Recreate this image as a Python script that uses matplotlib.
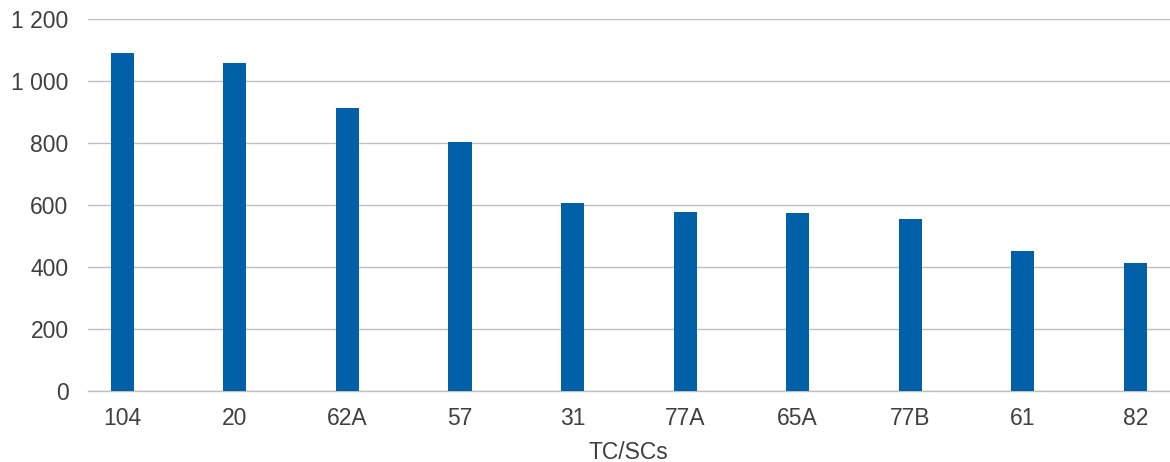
import matplotlib.pyplot as plt
import numpy as np

plt.rcParams['font.family'] = ['Liberation Sans', 'DejaVu Sans']

# Data
categories = ["104", "20", "62A", "57", "31", "77A", "65A", "77B", "61", "82"]
values = [1091, 1059, 914, 804, 607, 578, 575, 556, 452, 414]

barColor = "#0060A8"
gridColor = "#BFBFBF"
textColor = "#404040"

fig = plt.figure(figsize=(11.7, 4.62), dpi=100)
ax = fig.add_axes([0.0752, 0.153, 0.9245, 0.805])

x = np.arange(len(categories))
ax.bar(x, values, width=0.205, color=barColor, zorder=3)

ax.set_xlim(-0.306, len(categories) - 1 + 0.306)
ax.set_ylim(0, 1200)
ax.set_yticks(np.arange(0, 1201, 200))
ax.set_yticklabels(["{:,}".format(v).replace(",", " ") for v in range(0, 1201, 200)])
ax.set_xticks(x)
ax.set_xticklabels(categories)

ax.grid(axis='y', color=gridColor, linewidth=1.0, zorder=0)
for side in ['top', 'right', 'left']:
    ax.spines[side].set_visible(False)
ax.spines['bottom'].set_color(gridColor)
ax.spines['bottom'].set_linewidth(1.0)

ax.tick_params(axis='both', length=0, labelsize=16.5, colors=textColor)
ax.tick_params(axis='y', pad=14)
ax.tick_params(axis='x', pad=11)

ax.set_xlabel("TC/SCs", fontsize=16.5, color=textColor, labelpad=8)

fig.savefig("out.png", dpi=100)
